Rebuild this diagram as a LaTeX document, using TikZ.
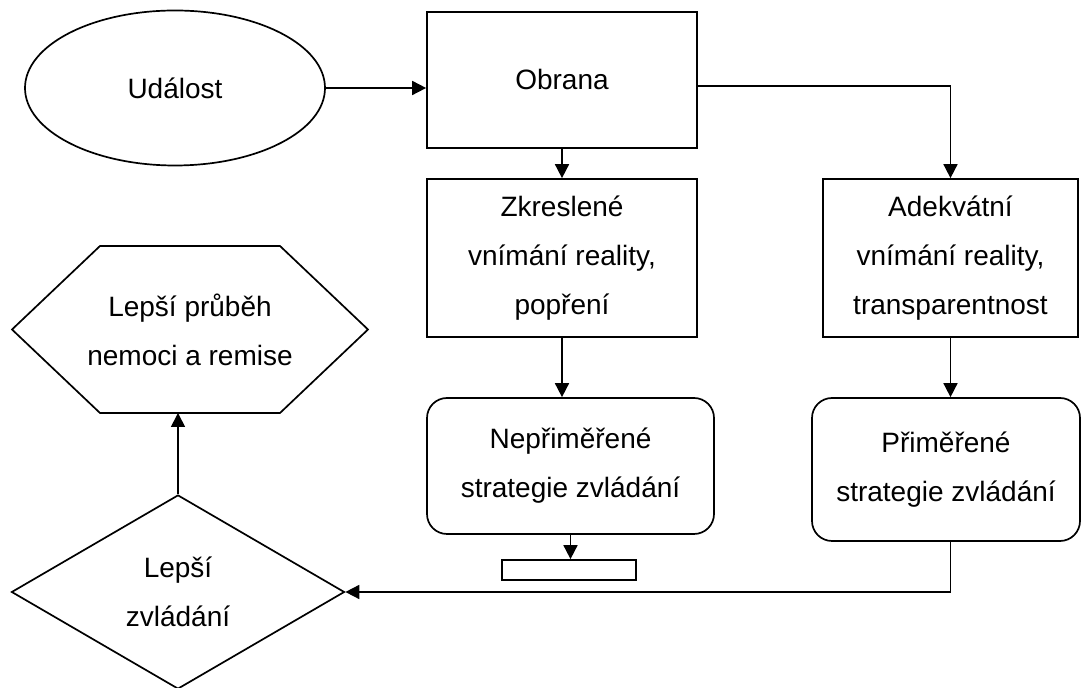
\documentclass[tikz,border=0pt]{standalone}
\usepackage{fontspec}
\setmainfont{Liberation Sans}
\usetikzlibrary{arrows.meta, shapes.geometric, calc, positioning}
\tikzset{
    eventNode/.style={ellipse, draw, inner sep=0pt, minimum width=150pt, minimum height=77.5pt},
    boxNode/.style={rectangle, draw, align=center, inner sep=0pt},
    roundNode/.style={rectangle, draw, rounded corners=10pt, align=center, inner sep=0pt},
    hexNode/.style={rectangle, align=center, inner sep=0pt, outer sep=0pt},
    decisionNode/.style={diamond, draw, align=center, inner sep=0pt, minimum width=166.5pt, minimum height=97pt},
    flowEdge/.style={->, >={Triangle[length=7pt, width=7pt]}},
}
\begin{document}
\begin{tikzpicture}[x=0.5pt, y=-0.5pt, line width=0.85pt, every node/.append style={font=\fontsize{14}{24.5}\selectfont}]
        \useasboundingbox (0, 0) rectangle (1082, 688);

        \node[eventNode] (udalost) at (175, 88) {Událost};
        \node[boxNode, minimum width=135pt, minimum height=68pt] (obrana) at (562, 80) {Obrana};
        \node[boxNode, minimum width=135pt, minimum height=79pt] (zkreslene) at (562, 258) {Zkreslené\\vnímání reality,\\popření};
        \node[boxNode, minimum width=127.5pt, minimum height=79pt] (adekvatni) at (950.5, 258) {Adekvátní\\vnímání reality,\\transparentnost};
        \node[roundNode, minimum width=143.5pt, minimum height=68pt] (neprimerene) at (570.5, 466) {Nepřiměřené\\strategie zvládání};
        \node[roundNode, minimum width=134pt, minimum height=71.5pt] (primerene) at (946, 469.5) {Přiměřené\\strategie zvládání};
        \node[boxNode, minimum width=67pt, minimum height=10pt] (prazdny) at (569, 570) {};
        \node[decisionNode] (lepsi) at (178, 592) {Lepší\\zvládání};
        \node[hexNode, minimum width=178pt, minimum height=83.5pt] (prubeh) at (190, 329.5) {Lepší průběh\\nemoci a remise};

        % obrys sestiuhelniku
        \draw (prubeh.west) -- ([xshift=44pt]prubeh.north west) -- ([xshift=-44pt]prubeh.north east)
            -- (prubeh.east) -- ([xshift=-44pt]prubeh.south east) -- ([xshift=44pt]prubeh.south west) -- cycle;

        \draw[flowEdge] (udalost.east) -- (udalost.east -| obrana.west);
        \draw[flowEdge] (obrana) -- (zkreslene);
        \draw[flowEdge] ([yshift=-3pt]obrana.east) -| (adekvatni.north);
        \draw[flowEdge] (zkreslene) -- (zkreslene |- neprimerene.north);
        \draw[flowEdge] (adekvatni) -- (adekvatni |- primerene.north);
        \draw[flowEdge] (neprimerene) -- (neprimerene |- prazdny.north);
        \draw[flowEdge] (primerene.south -| adekvatni) |- (lepsi.east);
        \draw[flowEdge] (lepsi.north) -- (lepsi.north |- prubeh.south);

    \end{tikzpicture}
\end{document}
